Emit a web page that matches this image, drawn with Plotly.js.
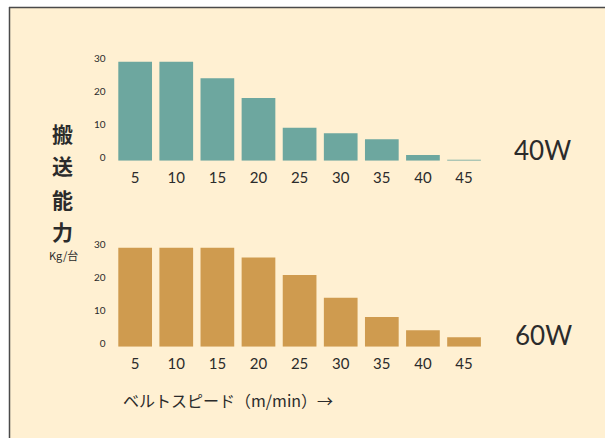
<!DOCTYPE html>
<html>
<head>
<meta charset="utf-8">
<script src="https://cdn.plot.ly/plotly-3.0.1.min.js"></script>
<style>
html,body{margin:0;padding:0;background:#ffffff;}
#chart{width:605px;height:438px;}
</style>
</head>
<body>
<div id="chart"></div>
<script>
var speeds = ['5','10','15','20','25','30','35','40','45'];
var capacity40W = [30, 30, 25, 19, 10, 8.3, 6.5, 1.7, 0.3];
var capacity60W = [30, 30, 30, 27, 21.7, 14.8, 9, 5, 2.9];
var yTicks = [0, 10, 20, 30];
var seriesLabels = ['40W', '60W'];
var yTitleChars = ['搬', '送', '能', '力'];
var yUnit = 'Kg/台';
var xTitle = 'ベルトスピード（m/min）→';

var W = 605, H = 438;
function px(x){ return x / W; }
function py(y){ return 1 - y / H; }

var numFont = 'Lato, "Noto Sans", sans-serif';
var jpFont = '"Noto Sans CJK JP", "Noto Sans", sans-serif';
var textColor = '#2b2b2b';

var traces = [
  {type:'bar', x:speeds, y:capacity40W, xaxis:'x', yaxis:'y',
   marker:{color:'#6da79f'}, hoverinfo:'skip'},
  {type:'bar', x:speeds, y:capacity60W, xaxis:'x2', yaxis:'y2',
   marker:{color:'#cf9b4f'}, hoverinfo:'skip'}
];

function xAxis(anchor){
  return {domain:[px(114.6), px(484.6)], anchor:anchor, type:'category',
    range:[-0.5, 8.5], showgrid:false, zeroline:false, showline:false,
    ticks:'', ticklabelstandoff:6,
    tickfont:{family:numFont, size:15, color:textColor}, fixedrange:true};
}
function yAxis(anchor, top, bottom){
  return {domain:[py(bottom), py(top)], anchor:anchor, range:[0, 31],
    tickvals:yTicks, ticktext:yTicks.map(String),
    showgrid:false, zeroline:false, showline:false, ticks:'',
    ticklabelstandoff:8, ticklabelshift:-3,
    tickfont:{family:numFont, size:10, color:textColor}, fixedrange:true};
}

var annotations = [];
var charY = [133, 165, 199, 231];
yTitleChars.forEach(function(c, i){
  annotations.push({xref:'paper', yref:'paper', x:px(62), y:py(charY[i]),
    text:'<b>'+c+'</b>', showarrow:false, xanchor:'center', yanchor:'middle',
    font:{family:jpFont, size:21, color:textColor}});
});
annotations.push({xref:'paper', yref:'paper', x:px(63), y:py(255),
  text:yUnit, showarrow:false, xanchor:'center', yanchor:'middle',
  font:{family:jpFont, size:11, color:textColor}});
annotations.push({xref:'paper', yref:'paper', x:px(542), y:py(150),
  text:seriesLabels[0], showarrow:false, xanchor:'center', yanchor:'middle',
  font:{family:numFont, size:26, color:textColor}});
annotations.push({xref:'paper', yref:'paper', x:px(543), y:py(335),
  text:seriesLabels[1], showarrow:false, xanchor:'center', yanchor:'middle',
  font:{family:numFont, size:26, color:textColor}});
annotations.push({xref:'paper', yref:'paper', x:px(121), y:py(400),
  text:xTitle, showarrow:false, xanchor:'left', yanchor:'middle',
  font:{family:jpFont, size:16, color:textColor}});

var layout = {
  width:W, height:H,
  margin:{l:0, r:0, t:0, b:0, pad:0},
  paper_bgcolor:'rgba(0,0,0,0)', plot_bgcolor:'rgba(0,0,0,0)',
  showlegend:false, bargap:0.18,
  xaxis:xAxis('y'), yaxis:yAxis('x', 58.4, 160.7),
  xaxis2:xAxis('y2'), yaxis2:yAxis('x2', 244.4, 346.7),
  shapes:[
    {type:'rect', xref:'paper', yref:'paper', x0:px(9.5), x1:1.02, y0:-0.02, y1:py(7.5),
     fillcolor:'#fff0d2', line:{width:0}, layer:'below'},
    {type:'line', xref:'paper', yref:'paper', x0:px(9.5), x1:px(9.5), y0:-0.02, y1:py(7),
     line:{color:'#4a4a4a', width:1.5}},
    {type:'line', xref:'paper', yref:'paper', x0:px(9), x1:1.02, y0:py(7.5), y1:py(7.5),
     line:{color:'#4a4a4a', width:1.5}}
  ],
  annotations:annotations
};

Plotly.newPlot('chart', traces, layout, {staticPlot:true, displayModeBar:false});
</script>
</body>
</html>
